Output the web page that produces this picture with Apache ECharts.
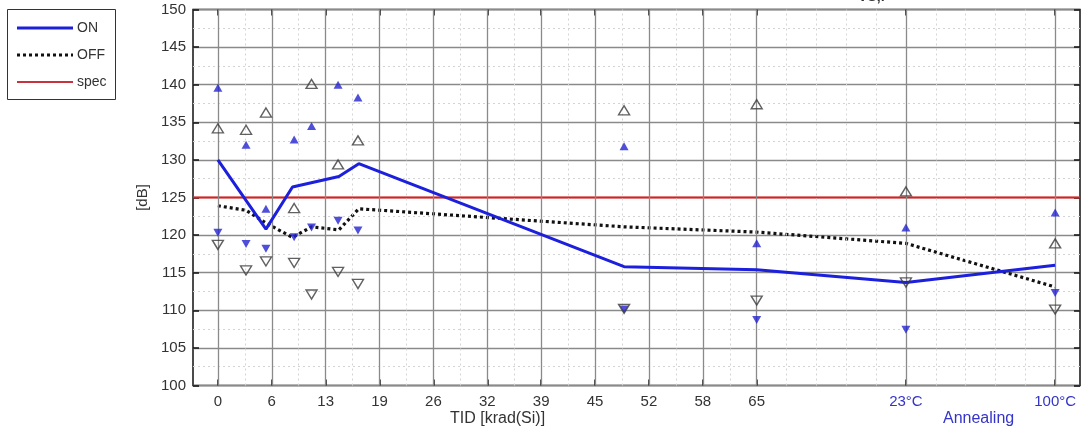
<!DOCTYPE html>
<html>
<head>
<meta charset="utf-8">
<script src="https://cdn.jsdelivr.net/npm/echarts@6/dist/echarts.min.js"></script>
<style>
  html, body { margin: 0; padding: 0; background: #fff; }
  #chart { width: 1083px; height: 432px; }
</style>
</head>
<body>
<div id="chart"></div>
<script>
// x-axis: dose positions (krad) plus the two annealing steps placed after 65 krad
const tickPos = [0, 6.5, 13, 19.5, 26, 32.5, 39, 45.5, 52, 58.5, 65, 83, 101];
const tickLabels = ['0', '6', '13', '19', '26', '32', '39', '45', '52', '58', '65', '23°C', '100°C'];
const annealingLabels = ['23°C', '100°C'];

// measurement steps for the individual device markers
const doses = [0, 3.4, 5.8, 9.2, 11.3, 14.5, 16.9, 49, 65, 83, 101];
const onMax  = [139.6, 132.0, 123.5, 132.7, 134.5, 140.0, 138.3, 131.8, 118.9, 121.0, 123.0];
const onMin  = [120.3, 118.8, 118.2, 119.7, 121.0, 121.9, 120.6, 110.1, 108.7, 107.4, 112.3];
const offMax = [134.2, 134.0, 136.3, 123.6, 140.1, 129.4, 132.6, 136.6, 137.4, 125.8, 118.9];
const offMin = [118.7, 115.3, 116.5, 116.3, 112.1, 115.1, 113.5, 110.2, 111.3, 113.7, 110.1];

// mean curves
const onDoses  = [0, 5.8, 9, 14.6, 17, 49, 65, 83, 101];
const onMean   = [130.0, 120.8, 126.4, 127.8, 129.5, 115.8, 115.4, 113.7, 116.0];
const offDoses = [0, 3.4, 5.8, 9, 11.3, 14.6, 17, 49, 65, 83, 101];
const offMean  = [123.9, 123.3, 121.6, 119.7, 121.1, 120.7, 123.5, 121.1, 120.4, 118.9, 113.1];

const specLevel = 125;
const legendNames = ['ON', 'OFF', 'spec'];

const X_MIN = -3, X_MAX = 104;
const Y_MIN = 100, Y_MAX = 150, Y_STEP = 5;

// minor grid: halves between dose ticks, fifths across the annealing span
const minorX = [];
for (let i = 0; i < tickPos.length - 1; i++) {
  const a = tickPos[i], b = tickPos[i + 1];
  const parts = (b - a) > 10 ? 5 : 2;
  for (let k = 1; k < parts; k++) minorX.push(a + (b - a) * k / parts);
}

const pair = (xs, ys) => xs.map((x, i) => [x, ys[i]]);

const FONT = 'Liberation Sans, Arial, sans-serif';
const BLUE = '#1c20dc';
const BLUE_MARK = '#2323cf';
const LABEL_BLUE = '#3434c8';
const RED = '#e41a1c';
const DARK = '#3a3a3a';

const lineStyles = {
  ON:   { stroke: BLUE, lineWidth: 3 },
  OFF:  { stroke: '#111', lineWidth: 3.2, lineDash: [3, 3] },
  spec: { stroke: '#c8323c', lineWidth: 2 }
};

// boxed legend drawn as graphics: short line sample + name per entry
const legendGraphics = [{
  type: 'rect', left: 7, top: 9, z: 100,
  shape: { width: 108, height: 90 },
  style: { fill: '#fff', stroke: '#333', lineWidth: 1 }
}];
legendNames.forEach((name, i) => {
  const y = 28 + i * 27;
  legendGraphics.push({
    type: 'line', z: 101,
    shape: { x1: 17, y1: y, x2: 73, y2: y },
    style: lineStyles[name]
  });
  legendGraphics.push({
    type: 'text', z: 101, x: 77, y: y,
    style: { text: name, fontSize: 14, fill: '#333', fontFamily: FONT, textVerticalAlign: 'middle', verticalAlign: 'middle' }
  });
});

const chart = echarts.init(document.getElementById('chart'), null, { renderer: 'canvas' });

const tickCommon = { show: true, inside: true, length: 6, customValues: tickPos, lineStyle: { color: '#111', width: 1.5 } };
const yTick = { show: true, inside: true, length: 6, lineStyle: { color: '#111', width: 1.5 } };

chart.setOption({
  animation: false,
  backgroundColor: '#fff',
  textStyle: { fontFamily: FONT },
  grid: {
    left: 193, right: 3, top: 9.5, bottom: 46.5,
    show: true, borderColor: '#111', borderWidth: 1.5, backgroundColor: '#fff'
  },
  xAxis: [{
    type: 'value', min: X_MIN, max: X_MAX, position: 'bottom',
    axisLine: { show: false, onZero: false },
    axisTick: tickCommon,
    splitLine: { show: false },
    axisLabel: {
      customValues: tickPos,
      margin: 9,
      fontSize: 15,
      color: '#333',
      formatter: (v) => {
        const i = tickPos.indexOf(v);
        const t = i >= 0 ? tickLabels[i] : '';
        return annealingLabels.includes(t) ? '{a|' + t + '}' : t;
      },
      rich: { a: { color: LABEL_BLUE, fontSize: 15 } }
    }
  }, {
    type: 'value', min: X_MIN, max: X_MAX, position: 'top',
    axisLine: { show: false, onZero: false },
    axisTick: tickCommon,
    axisLabel: { show: false },
    splitLine: { show: false }
  }],
  yAxis: [{
    type: 'value', min: Y_MIN, max: Y_MAX, interval: Y_STEP, position: 'left',
    name: '[dB]', nameLocation: 'middle', nameGap: 38, nameRotate: 90,
    nameTextStyle: { fontSize: 15, color: '#333' },
    axisLine: { show: false, onZero: false },
    axisTick: yTick,
    axisLabel: { fontSize: 15, color: '#333', margin: 7 },
    splitLine: { show: true, lineStyle: { color: '#8a8a8a', width: 1.3 } },
    minorTick: { show: false, splitNumber: 2 },
    minorSplitLine: { show: true, lineStyle: { color: '#d4d4d4', width: 1, type: [2, 3] } }
  }, {
    type: 'value', min: Y_MIN, max: Y_MAX, interval: Y_STEP, position: 'right',
    axisLine: { show: false, onZero: false },
    axisTick: yTick,
    axisLabel: { show: false },
    splitLine: { show: false }
  }],
  graphic: legendGraphics.concat([
    { type: 'text', left: 450, top: 411, style: { text: 'TID [krad(Si)]', fontSize: 16, fill: '#333', fontFamily: FONT } },
    { type: 'text', left: 943, top: 411, style: { text: 'Annealing', fontSize: 16, fill: LABEL_BLUE, fontFamily: FONT } },
    { type: 'text', left: 858, top: -10, style: { text: 'VS,f', fontSize: 14, fontWeight: 'bold', fill: '#333', fontFamily: FONT } }
  ]),
  series: [
    {
      // vertical grid lines (major at ticks, dotted minor in between)
      name: 'grid', type: 'line', data: [], silent: true, z: 1,
      markLine: {
        silent: true, symbol: 'none', animation: false,
        label: { show: false },
        data: minorX.map(v => ({ xAxis: v, lineStyle: { color: '#d4d4d4', width: 1, type: [2, 3] } }))
          .concat(tickPos.map(v => ({ xAxis: v, lineStyle: { color: '#8a8a8a', width: 1.3, type: 'solid' } })))
      }
    },
    {
      name: 'spec', type: 'line', z: 3, showSymbol: false, symbol: 'none',
      data: [[X_MIN, specLevel], [X_MAX, specLevel]],
      lineStyle: { color: RED, width: 2 }
    },
    {
      name: 'OFF', type: 'line', z: 4, showSymbol: false, symbol: 'none',
      data: pair(offDoses, offMean),
      lineStyle: { color: '#111', width: 3.2, type: [3, 3] }
    },
    {
      name: 'ON', type: 'line', z: 5, showSymbol: false, symbol: 'none',
      data: pair(onDoses, onMean),
      lineStyle: { color: BLUE, width: 3 }
    },
    {
      name: 'ON max', type: 'scatter', z: 6, symbol: 'triangle', symbolSize: [9, 8],
      data: pair(doses, onMax), itemStyle: { color: BLUE_MARK }
    },
    {
      name: 'ON min', type: 'scatter', z: 6, symbol: 'triangle', symbolRotate: 180, symbolSize: [9, 8],
      data: pair(doses, onMin), itemStyle: { color: BLUE_MARK }
    },
    {
      name: 'OFF max', type: 'scatter', z: 6, symbol: 'triangle', symbolSize: [11, 9],
      data: pair(doses, offMax), itemStyle: { color: 'rgba(255,255,255,0)', borderColor: DARK, borderWidth: 1.4 }
    },
    {
      name: 'OFF min', type: 'scatter', z: 6, symbol: 'triangle', symbolRotate: 180, symbolSize: [11, 9],
      data: pair(doses, offMin), itemStyle: { color: 'rgba(255,255,255,0)', borderColor: DARK, borderWidth: 1.4 }
    }
  ]
});
</script>
</body>
</html>
